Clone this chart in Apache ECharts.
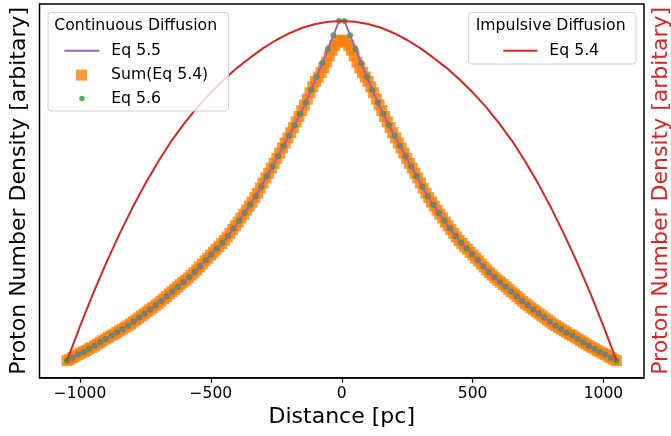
<!DOCTYPE html>
<html>
<head>
<meta charset="utf-8">
<script src="https://cdn.jsdelivr.net/npm/echarts@6/dist/echarts.min.js"></script>
<style>
    html, body { margin: 0; padding: 0; background: #fff; }
    #chart { width: 671px; height: 436px; }
</style>
</head>
<body>
<div id="chart"></div>
<script>
    // distance grid (pc) for Eq 5.5 / Eq 5.6
    const xGrid = [
        -1050.0, -1028.8, -1007.6, -986.4, -965.2, -943.9, -922.7, -901.5, -880.3, -859.1,
        -837.9, -816.7, -795.5, -774.2, -753.0, -731.8, -710.6, -689.4, -668.2, -647.0,
        -625.8, -604.5, -583.3, -562.1, -540.9, -519.7, -498.5, -477.3, -456.1, -434.8,
        -413.6, -392.4, -371.2, -350.0, -328.8, -307.6, -286.4, -265.2, -243.9, -222.7,
        -201.5, -180.3, -159.1, -137.9, -116.7, -95.5, -74.2, -53.0, -31.8, -10.6,
        10.6, 31.8, 53.0, 74.2, 95.5, 116.7, 137.9, 159.1, 180.3, 201.5,
        222.7, 243.9, 265.2, 286.4, 307.6, 328.8, 350.0, 371.2, 392.4, 413.6,
        434.8, 456.1, 477.3, 498.5, 519.7, 540.9, 562.1, 583.3, 604.5, 625.8,
        647.0, 668.2, 689.4, 710.6, 731.8, 753.0, 774.2, 795.5, 816.7, 837.9,
        859.1, 880.3, 901.5, 922.7, 943.9, 965.2, 986.4, 1007.6, 1028.8, 1050.0
    ];
    // Eq 5.5 (arbitrary units, normalised)
    const eq55Vals = [
        0.000, 0.009, 0.018, 0.026, 0.035, 0.044, 0.054, 0.064, 0.074, 0.083,
        0.093, 0.103, 0.115, 0.127, 0.139, 0.151, 0.163, 0.176, 0.190, 0.204,
        0.218, 0.232, 0.246, 0.261, 0.278, 0.296, 0.313, 0.330, 0.347, 0.367,
        0.389, 0.412, 0.435, 0.459, 0.484, 0.513, 0.543, 0.572, 0.602, 0.632,
        0.662, 0.693, 0.726, 0.760, 0.797, 0.836, 0.876, 0.917, 0.958, 1.000,
        1.000, 0.958, 0.917, 0.876, 0.836, 0.797, 0.760, 0.726, 0.693, 0.662,
        0.632, 0.602, 0.572, 0.543, 0.513, 0.484, 0.459, 0.435, 0.412, 0.389,
        0.367, 0.347, 0.330, 0.313, 0.296, 0.278, 0.261, 0.246, 0.232, 0.218,
        0.204, 0.190, 0.176, 0.163, 0.151, 0.139, 0.127, 0.115, 0.103, 0.093,
        0.083, 0.074, 0.064, 0.054, 0.044, 0.035, 0.026, 0.018, 0.009, 0.000
    ];
    // Eq 5.6 (same points)
    const eq56Vals = [
        0.000, 0.009, 0.018, 0.026, 0.035, 0.044, 0.054, 0.064, 0.074, 0.083,
        0.093, 0.103, 0.115, 0.127, 0.139, 0.151, 0.163, 0.176, 0.190, 0.204,
        0.218, 0.232, 0.246, 0.261, 0.278, 0.296, 0.313, 0.330, 0.347, 0.367,
        0.389, 0.412, 0.435, 0.459, 0.484, 0.513, 0.543, 0.572, 0.602, 0.632,
        0.662, 0.693, 0.726, 0.760, 0.797, 0.836, 0.876, 0.917, 0.958, 1.000,
        1.000, 0.958, 0.917, 0.876, 0.836, 0.797, 0.760, 0.726, 0.693, 0.662,
        0.632, 0.602, 0.572, 0.543, 0.513, 0.484, 0.459, 0.435, 0.412, 0.389,
        0.367, 0.347, 0.330, 0.313, 0.296, 0.278, 0.261, 0.246, 0.232, 0.218,
        0.204, 0.190, 0.176, 0.163, 0.151, 0.139, 0.127, 0.115, 0.103, 0.093,
        0.083, 0.074, 0.064, 0.054, 0.044, 0.035, 0.026, 0.018, 0.009, 0.000
    ];
    // finer grid used by Sum(Eq 5.4)
    const xSum = [
        -1050.0, -1039.4, -1028.9, -1018.3, -1007.8, -997.2, -986.7, -976.1, -965.6, -955.0,
        -944.5, -933.9, -923.4, -912.8, -902.3, -891.7, -881.2, -870.6, -860.1, -849.5,
        -838.9, -828.4, -817.8, -807.3, -796.7, -786.2, -775.6, -765.1, -754.5, -744.0,
        -733.4, -722.9, -712.3, -701.8, -691.2, -680.7, -670.1, -659.5, -649.0, -638.4,
        -627.9, -617.3, -606.8, -596.2, -585.7, -575.1, -564.6, -554.0, -543.5, -532.9,
        -522.4, -511.8, -501.3, -490.7, -480.2, -469.6, -459.0, -448.5, -437.9, -427.4,
        -416.8, -406.3, -395.7, -385.2, -374.6, -364.1, -353.5, -343.0, -332.4, -321.9,
        -311.3, -300.8, -290.2, -279.6, -269.1, -258.5, -248.0, -237.4, -226.9, -216.3,
        -205.8, -195.2, -184.7, -174.1, -163.6, -153.0, -142.5, -131.9, -121.4, -110.8,
        -100.3, -89.7, -79.1, -68.6, -58.0, -47.5, -36.9, -26.4, -15.8, -5.3,
        5.3, 15.8, 26.4, 36.9, 47.5, 58.0, 68.6, 79.1, 89.7, 100.3,
        110.8, 121.4, 131.9, 142.5, 153.0, 163.6, 174.1, 184.7, 195.2, 205.8,
        216.3, 226.9, 237.4, 248.0, 258.5, 269.1, 279.6, 290.2, 300.8, 311.3,
        321.9, 332.4, 343.0, 353.5, 364.1, 374.6, 385.2, 395.7, 406.3, 416.8,
        427.4, 437.9, 448.5, 459.0, 469.6, 480.2, 490.7, 501.3, 511.8, 522.4,
        532.9, 543.5, 554.0, 564.6, 575.1, 585.7, 596.2, 606.8, 617.3, 627.9,
        638.4, 649.0, 659.5, 670.1, 680.7, 691.2, 701.8, 712.3, 722.9, 733.4,
        744.0, 754.5, 765.1, 775.6, 786.2, 796.7, 807.3, 817.8, 828.4, 838.9,
        849.5, 860.1, 870.6, 881.2, 891.7, 902.3, 912.8, 923.4, 933.9, 944.5,
        955.0, 965.6, 976.1, 986.7, 997.2, 1007.8, 1018.3, 1028.9, 1039.4, 1050.0
    ];
    // Sum(Eq 5.4): flattened near the cusp
    const sumVals = [
        0.000, 0.004, 0.009, 0.013, 0.018, 0.022, 0.026, 0.030, 0.035, 0.039,
        0.044, 0.049, 0.054, 0.059, 0.064, 0.069, 0.074, 0.078, 0.083, 0.088,
        0.093, 0.098, 0.103, 0.108, 0.114, 0.120, 0.126, 0.132, 0.138, 0.144,
        0.150, 0.156, 0.162, 0.168, 0.175, 0.182, 0.189, 0.196, 0.203, 0.210,
        0.217, 0.224, 0.231, 0.237, 0.244, 0.252, 0.259, 0.267, 0.276, 0.285,
        0.294, 0.302, 0.311, 0.319, 0.328, 0.336, 0.345, 0.354, 0.364, 0.375,
        0.386, 0.397, 0.408, 0.420, 0.431, 0.443, 0.455, 0.467, 0.480, 0.493,
        0.508, 0.523, 0.538, 0.552, 0.567, 0.581, 0.596, 0.611, 0.626, 0.641,
        0.656, 0.671, 0.686, 0.703, 0.719, 0.736, 0.753, 0.770, 0.789, 0.806,
        0.822, 0.835, 0.848, 0.862, 0.879, 0.897, 0.914, 0.928, 0.938, 0.943,
        0.943, 0.938, 0.928, 0.914, 0.897, 0.879, 0.862, 0.848, 0.835, 0.822,
        0.806, 0.789, 0.770, 0.753, 0.736, 0.719, 0.703, 0.686, 0.671, 0.656,
        0.641, 0.626, 0.611, 0.596, 0.581, 0.567, 0.552, 0.538, 0.523, 0.508,
        0.493, 0.480, 0.467, 0.455, 0.443, 0.431, 0.420, 0.408, 0.397, 0.386,
        0.375, 0.364, 0.354, 0.345, 0.336, 0.328, 0.319, 0.311, 0.302, 0.294,
        0.285, 0.276, 0.267, 0.259, 0.252, 0.244, 0.237, 0.231, 0.224, 0.217,
        0.210, 0.203, 0.196, 0.189, 0.182, 0.175, 0.168, 0.162, 0.156, 0.150,
        0.144, 0.138, 0.132, 0.126, 0.120, 0.114, 0.108, 0.103, 0.098, 0.093,
        0.088, 0.083, 0.078, 0.074, 0.069, 0.064, 0.059, 0.054, 0.049, 0.044,
        0.039, 0.035, 0.030, 0.026, 0.022, 0.018, 0.013, 0.009, 0.004, 0.000
    ];
    // Impulsive diffusion, Eq 5.4 (right axis)
    const xRed = [
        -1050, -1000, -950, -900, -850, -800, -750, -700, -650, -600, -550,
        -500, -450, -400, -350, -300, -250, -200, -150, -100, -50, 0,
        50, 100, 150, 200, 250, 300, 350, 400, 450, 500,
        550, 600, 650, 700, 750, 800, 850, 900, 950, 1000, 1050
    ];
    const redVals = [
        0.000, 0.102, 0.198, 0.288, 0.372, 0.450, 0.522, 0.588, 0.648, 0.700, 0.748,
        0.790, 0.828, 0.862, 0.892, 0.920, 0.944, 0.964, 0.980, 0.991, 0.998, 1.000,
        0.998, 0.991, 0.980, 0.964, 0.944, 0.920, 0.892, 0.862, 0.828, 0.790,
        0.748, 0.700, 0.648, 0.588, 0.522, 0.450, 0.372, 0.288, 0.198, 0.102, 0.000
    ];
    const xTicks = [-1000, -500, 0, 500, 1000];

    const FONT = 'DejaVu Sans';
    const pair = (xs, ys) => xs.map((x, i) => [x, ys[i]]);

    const chart = echarts.init(document.getElementById('chart'));
    chart.setOption({
        animation: false,
        textStyle: { fontFamily: FONT },
        grid: {
            left: 39.5, right: 27, top: 4, bottom: 58.3,
            outerBoundsMode: 'none',
            containLabel: false,
            show: true, borderColor: '#000', borderWidth: 1.5,
            backgroundColor: 'transparent'
        },
        xAxis: {
            type: 'value',
            min: -1155, max: 1155,
            name: 'Distance [pc]',
            nameLocation: 'middle',
            nameGap: 28,
            nameTextStyle: { fontSize: 22, color: '#000', fontFamily: FONT },
            axisLine: { show: true, onZero: false, lineStyle: { color: '#000', width: 1.5 } },
            axisTick: { show: true, length: 5, customValues: xTicks, lineStyle: { color: '#000', width: 1.2 } },
            axisLabel: {
                customValues: xTicks,
                margin: 8,
                fontSize: 15.5,
                color: '#000',
                fontFamily: FONT,
                formatter: v => String(v).replace('-', '\u2212')
            },
            splitLine: { show: false }
        },
        yAxis: [
            {
                type: 'value', min: -0.05, max: 1.05,
                name: 'Proton Number Density [arbitary]',
                nameLocation: 'middle', nameRotate: 90, nameGap: 9,
                nameTextStyle: { fontSize: 22, color: '#000', fontFamily: FONT },
                axisLine: { show: false }, axisTick: { show: false },
                axisLabel: { show: false }, splitLine: { show: false }
            },
            {
                type: 'value', min: -0.05, max: 1.05, position: 'right',
                name: 'Proton Number Density [arbitary]',
                nameLocation: 'middle', nameRotate: 90, nameGap: 6,
                nameTextStyle: { fontSize: 22, color: '#d62728', fontFamily: FONT },
                axisLine: { show: false }, axisTick: { show: false },
                axisLabel: { show: false }, splitLine: { show: false }
            }
        ],
        legend: [
            {
                data: [{ name: 'Eq 5.5', icon: 'rect' }],
                left: 64.3, top: 42.8, padding: 0, itemWidth: 35, itemHeight: 2, z: 10,
                textStyle: { fontSize: 15.7, color: '#000', fontFamily: FONT, padding: [0, 0, 0, 7] }
            },
            {
                data: [{ name: 'Sum(Eq 5.4)', icon: 'rect' }],
                left: 76, top: 67.1, padding: 0, itemWidth: 11, itemHeight: 11, z: 10,
                textStyle: { fontSize: 15.7, color: '#000', fontFamily: FONT, padding: [0, 0, 0, 19] }
            },
            {
                data: [{ name: 'Eq 5.6', icon: 'circle' }],
                left: 79.2, top: 90.5, padding: 0, itemWidth: 5.5, itemHeight: 5.5, z: 10,
                textStyle: { fontSize: 15.7, color: '#000', fontFamily: FONT, padding: [0, 0, 0, 21.5] }
            },
            {
                data: [{ name: 'Eq 5.4', icon: 'rect' }],
                left: 503.3, top: 42.8, padding: 0, itemWidth: 34, itemHeight: 2, z: 10,
                textStyle: { fontSize: 15.7, color: '#000', fontFamily: FONT, padding: [0, 0, 0, 7] }
            }
        ],
        graphic: [
            {
                type: 'rect', z: 8,
                shape: { x: 48, y: 12.5, width: 180.5, height: 98.5, r: 3 },
                style: { fill: 'rgba(255,255,255,0.8)', stroke: '#d0d0d0', lineWidth: 1 }
            },
            {
                type: 'text', z: 9,
                style: { text: 'Continuous Diffusion', x: 54.3, y: 25.5, verticalAlign: 'middle',
                         font: '15.7px "DejaVu Sans"', fill: '#000' }
            },
            {
                type: 'rect', z: 8,
                shape: { x: 468.5, y: 12.5, width: 167.5, height: 51.5, r: 3 },
                style: { fill: 'rgba(255,255,255,0.8)', stroke: '#d0d0d0', lineWidth: 1 }
            },
            {
                type: 'text', z: 9,
                style: { text: 'Impulsive Diffusion', x: 475.7, y: 25.5, verticalAlign: 'middle',
                         font: '15.7px "DejaVu Sans"', fill: '#000' }
            }
        ],
        series: [
            {
                name: 'Sum(Eq 5.4)',
                type: 'scatter',
                symbol: 'rect',
                symbolSize: 11,
                itemStyle: { color: '#ff7f0e', opacity: 0.8 },
                data: pair(xSum, sumVals)
            },
            {
                name: 'Eq 5.6',
                type: 'scatter',
                symbol: 'circle',
                symbolSize: 6,
                itemStyle: { color: '#2ca02c' },
                data: pair(xGrid, eq56Vals)
            },
            {
                name: 'Eq 5.5',
                type: 'line',
                showSymbol: false,
                lineStyle: { color: '#9467bd', width: 2 },
                itemStyle: { color: '#9467bd' },
                data: pair(xGrid, eq55Vals)
            },
            {
                name: 'Eq 5.4',
                type: 'line',
                yAxisIndex: 1,
                showSymbol: false,
                lineStyle: { color: '#d62728', width: 2 },
                itemStyle: { color: '#d62728' },
                data: pair(xRed, redVals)
            }
        ]
    });
</script>
</body>
</html>
